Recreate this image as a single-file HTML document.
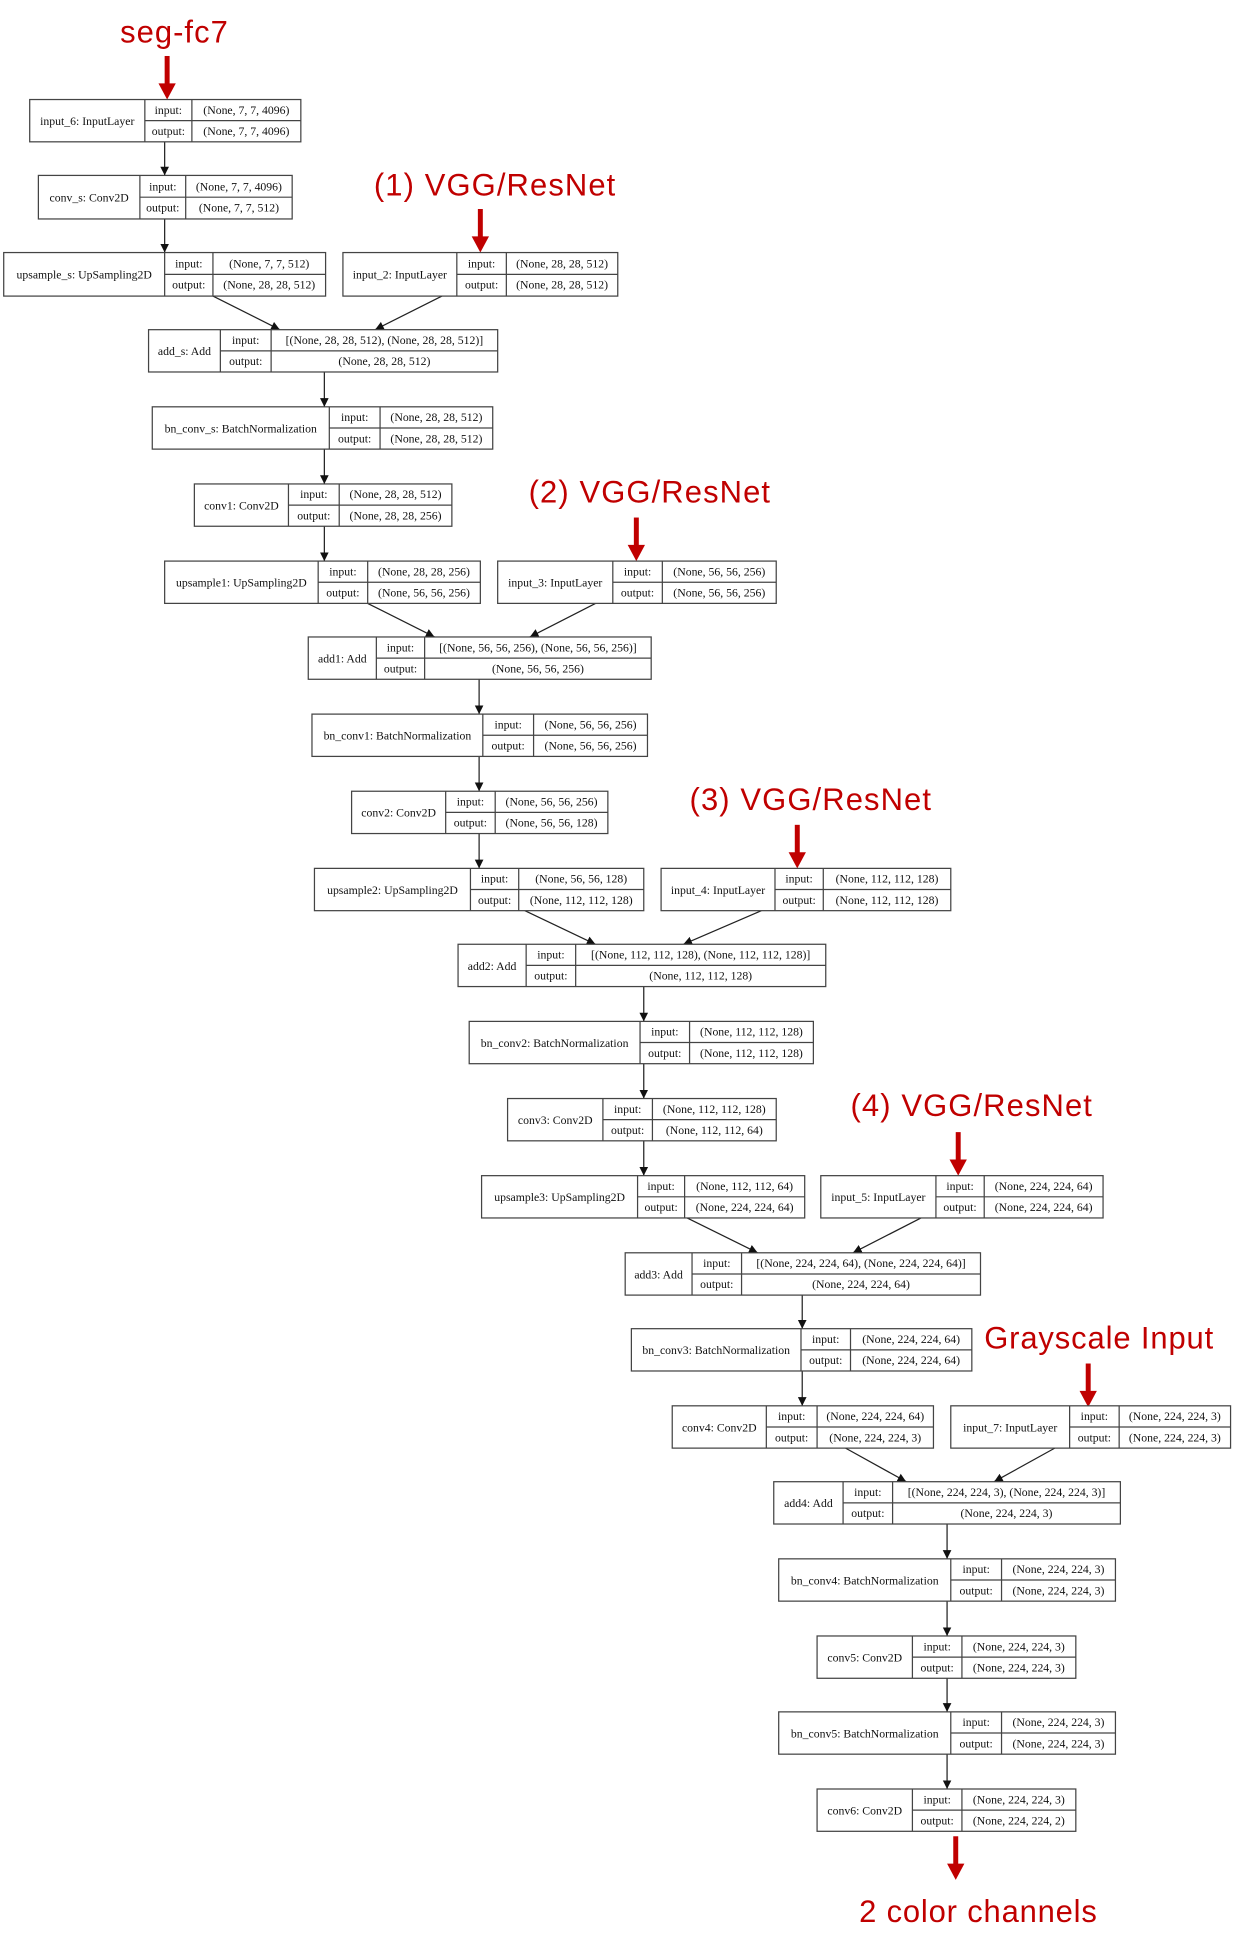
<!DOCTYPE html>
<html><head><meta charset="utf-8"><style>
html,body{margin:0;padding:0;background:#fff;}
svg{display:block;}
.b{fill:#fff;stroke:#444;stroke-width:1;}
.l{stroke:#444;stroke-width:1;}
text{font-family:"Liberation Serif",serif;font-size:9.5px;fill:#111;}
.r{font-family:"Liberation Sans",sans-serif;font-size:25px;fill:#c00000;}
.c{stroke:#222;stroke-width:1;fill:none;}
.h{fill:#111;}
.ra{fill:#c00000;}
</style></head><body>
<svg width="1238" height="1947" viewBox="0 0 1000 1565" preserveAspectRatio="none" xmlns="http://www.w3.org/2000/svg">
<defs>
<marker id="ah" markerWidth="8" markerHeight="8" refX="7" refY="3.5" orient="auto" markerUnits="userSpaceOnUse"><path d="M0,0 L7,3.5 L0,7 Z" class="h"/></marker>
<g id="rarrow"><rect x="-2" y="0" width="4" height="24" class="ra"/><path d="M-7,22 L7,22 L0,35 Z" class="ra"/></g>
</defs>

<!-- red labels -->
<text class="r" x="97" y="34" textLength="87">seg-fc7</text>
<use href="#rarrow" x="135" y="45"/>
<text class="r" x="302" y="157" textLength="195">(1) VGG/ResNet</text>
<use href="#rarrow" x="388" y="168"/>
<text class="r" x="427" y="404" textLength="195">(2) VGG/ResNet</text>
<use href="#rarrow" x="514" y="416"/>
<text class="r" x="557" y="651" textLength="195">(3) VGG/ResNet</text>
<use href="#rarrow" x="644" y="663"/>
<text class="r" x="687" y="897" textLength="195">(4) VGG/ResNet</text>
<use href="#rarrow" x="774" y="910"/>
<text class="r" x="795" y="1084" textLength="185">Grayscale Input</text>
<use href="#rarrow" x="879" y="1096"/>
<use href="#rarrow" x="772" y="1476"/>
<text class="r" x="694" y="1545" textLength="192">2 color channels</text>

<!-- connectors -->
<g class="c" marker-end="url(#ah)">
<line x1="133" y1="114" x2="133" y2="141"/>
<line x1="133" y1="176" x2="133" y2="203"/>
<line x1="172" y1="238" x2="226" y2="265"/>
<line x1="357" y1="238" x2="303" y2="265"/>
<line x1="262" y1="299" x2="262" y2="327"/>
<line x1="262" y1="361" x2="262" y2="389"/>
<line x1="262" y1="423" x2="262" y2="451"/>
<line x1="297" y1="485" x2="351" y2="512"/>
<line x1="481" y1="485" x2="428" y2="512"/>
<line x1="387" y1="546" x2="387" y2="574"/>
<line x1="387" y1="608" x2="387" y2="636"/>
<line x1="387" y1="670" x2="387" y2="698"/>
<line x1="424" y1="732" x2="481" y2="759"/>
<line x1="615" y1="732" x2="552" y2="759"/>
<line x1="520" y1="793" x2="520" y2="821"/>
<line x1="520" y1="855" x2="520" y2="883"/>
<line x1="520" y1="917" x2="520" y2="945"/>
<line x1="555" y1="979" x2="612" y2="1007"/>
<line x1="744" y1="979" x2="689" y2="1007"/>
<line x1="648" y1="1041" x2="648" y2="1068"/>
<line x1="648" y1="1102" x2="648" y2="1130"/>
<line x1="683" y1="1164" x2="732" y2="1191"/>
<line x1="852" y1="1164" x2="803" y2="1191"/>
<line x1="765" y1="1225" x2="765" y2="1253"/>
<line x1="765" y1="1287" x2="765" y2="1315"/>
<line x1="765" y1="1349" x2="765" y2="1376"/>
<line x1="765" y1="1410" x2="765" y2="1438"/>
</g>

<!-- nodes -->
<g id="nodes"></g>
<g>
<!-- N1 input_6 -->
<rect class="b" x="24" y="80" width="219" height="34"/><line class="l" x1="117" y1="80" x2="117" y2="114"/><line class="l" x1="155" y1="80" x2="155" y2="114"/><line class="l" x1="117" y1="97" x2="243" y2="97"/>
<text x="70.5" y="100.5" text-anchor="middle">input_6: InputLayer</text><text x="136" y="91.5" text-anchor="middle">input:</text><text x="136" y="108.5" text-anchor="middle">output:</text><text x="199" y="91.5" text-anchor="middle">(None, 7, 7, 4096)</text><text x="199" y="108.5" text-anchor="middle">(None, 7, 7, 4096)</text>
<!-- N2 conv_s -->
<rect class="b" x="31" y="141" width="205" height="35"/><line class="l" x1="113" y1="141" x2="113" y2="176"/><line class="l" x1="150" y1="141" x2="150" y2="176"/><line class="l" x1="113" y1="158.5" x2="236" y2="158.5"/>
<text x="72" y="162" text-anchor="middle">conv_s: Conv2D</text><text x="131.5" y="153" text-anchor="middle">input:</text><text x="131.5" y="170" text-anchor="middle">output:</text><text x="193" y="153" text-anchor="middle">(None, 7, 7, 4096)</text><text x="193" y="170" text-anchor="middle">(None, 7, 7, 512)</text>
<!-- N3 upsample_s -->
<rect class="b" x="3" y="203" width="260" height="35"/><line class="l" x1="133" y1="203" x2="133" y2="238"/><line class="l" x1="172" y1="203" x2="172" y2="238"/><line class="l" x1="133" y1="220.5" x2="263" y2="220.5"/>
<text x="68" y="224" text-anchor="middle">upsample_s: UpSampling2D</text><text x="152.5" y="215" text-anchor="middle">input:</text><text x="152.5" y="232" text-anchor="middle">output:</text><text x="217.5" y="215" text-anchor="middle">(None, 7, 7, 512)</text><text x="217.5" y="232" text-anchor="middle">(None, 28, 28, 512)</text>
<!-- N4 input_2 -->
<rect class="b" x="277" y="203" width="222" height="35"/><line class="l" x1="369" y1="203" x2="369" y2="238"/><line class="l" x1="409" y1="203" x2="409" y2="238"/><line class="l" x1="369" y1="220.5" x2="499" y2="220.5"/>
<text x="323" y="224" text-anchor="middle">input_2: InputLayer</text><text x="389" y="215" text-anchor="middle">input:</text><text x="389" y="232" text-anchor="middle">output:</text><text x="454" y="215" text-anchor="middle">(None, 28, 28, 512)</text><text x="454" y="232" text-anchor="middle">(None, 28, 28, 512)</text>
<!-- N5 add_s -->
<rect class="b" x="120" y="265" width="282" height="34"/><line class="l" x1="178" y1="265" x2="178" y2="299"/><line class="l" x1="219" y1="265" x2="219" y2="299"/><line class="l" x1="178" y1="282" x2="402" y2="282"/>
<text x="149" y="285.5" text-anchor="middle">add_s: Add</text><text x="198.5" y="276.5" text-anchor="middle">input:</text><text x="198.5" y="293.5" text-anchor="middle">output:</text><text x="310.5" y="276.5" text-anchor="middle">[(None, 28, 28, 512), (None, 28, 28, 512)]</text><text x="310.5" y="293.5" text-anchor="middle">(None, 28, 28, 512)</text>
<!-- N6 bn_conv_s -->
<rect class="b" x="123" y="327" width="275" height="34"/><line class="l" x1="266" y1="327" x2="266" y2="361"/><line class="l" x1="307" y1="327" x2="307" y2="361"/><line class="l" x1="266" y1="344" x2="398" y2="344"/>
<text x="194.5" y="347.5" text-anchor="middle">bn_conv_s: BatchNormalization</text><text x="286.5" y="338.5" text-anchor="middle">input:</text><text x="286.5" y="355.5" text-anchor="middle">output:</text><text x="352.5" y="338.5" text-anchor="middle">(None, 28, 28, 512)</text><text x="352.5" y="355.5" text-anchor="middle">(None, 28, 28, 512)</text>
<!-- N7 conv1 -->
<rect class="b" x="157" y="389" width="208" height="34"/><line class="l" x1="233" y1="389" x2="233" y2="423"/><line class="l" x1="274" y1="389" x2="274" y2="423"/><line class="l" x1="233" y1="406" x2="365" y2="406"/>
<text x="195" y="409.5" text-anchor="middle">conv1: Conv2D</text><text x="253.5" y="400.5" text-anchor="middle">input:</text><text x="253.5" y="417.5" text-anchor="middle">output:</text><text x="319.5" y="400.5" text-anchor="middle">(None, 28, 28, 512)</text><text x="319.5" y="417.5" text-anchor="middle">(None, 28, 28, 256)</text>
<!-- N8 upsample1 -->
<rect class="b" x="133" y="451" width="255" height="34"/><line class="l" x1="257" y1="451" x2="257" y2="485"/><line class="l" x1="297" y1="451" x2="297" y2="485"/><line class="l" x1="257" y1="468" x2="388" y2="468"/>
<text x="195" y="471.5" text-anchor="middle">upsample1: UpSampling2D</text><text x="277" y="462.5" text-anchor="middle">input:</text><text x="277" y="479.5" text-anchor="middle">output:</text><text x="342.5" y="462.5" text-anchor="middle">(None, 28, 28, 256)</text><text x="342.5" y="479.5" text-anchor="middle">(None, 56, 56, 256)</text>
<!-- N9 input_3 -->
<rect class="b" x="402" y="451" width="225" height="34"/><line class="l" x1="495" y1="451" x2="495" y2="485"/><line class="l" x1="535" y1="451" x2="535" y2="485"/><line class="l" x1="495" y1="468" x2="627" y2="468"/>
<text x="448.5" y="471.5" text-anchor="middle">input_3: InputLayer</text><text x="515" y="462.5" text-anchor="middle">input:</text><text x="515" y="479.5" text-anchor="middle">output:</text><text x="581" y="462.5" text-anchor="middle">(None, 56, 56, 256)</text><text x="581" y="479.5" text-anchor="middle">(None, 56, 56, 256)</text>
<!-- N10 add1 -->
<rect class="b" x="249" y="512" width="277" height="34"/><line class="l" x1="304" y1="512" x2="304" y2="546"/><line class="l" x1="343" y1="512" x2="343" y2="546"/><line class="l" x1="304" y1="529" x2="526" y2="529"/>
<text x="276.5" y="532.5" text-anchor="middle">add1: Add</text><text x="323.5" y="523.5" text-anchor="middle">input:</text><text x="323.5" y="540.5" text-anchor="middle">output:</text><text x="434.5" y="523.5" text-anchor="middle">[(None, 56, 56, 256), (None, 56, 56, 256)]</text><text x="434.5" y="540.5" text-anchor="middle">(None, 56, 56, 256)</text>
<!-- N11 bn_conv1 -->
<rect class="b" x="252" y="574" width="271" height="34"/><line class="l" x1="390" y1="574" x2="390" y2="608"/><line class="l" x1="431" y1="574" x2="431" y2="608"/><line class="l" x1="390" y1="591" x2="523" y2="591"/>
<text x="321" y="594.5" text-anchor="middle">bn_conv1: BatchNormalization</text><text x="410.5" y="585.5" text-anchor="middle">input:</text><text x="410.5" y="602.5" text-anchor="middle">output:</text><text x="477" y="585.5" text-anchor="middle">(None, 56, 56, 256)</text><text x="477" y="602.5" text-anchor="middle">(None, 56, 56, 256)</text>
<!-- N12 conv2 -->
<rect class="b" x="284" y="636" width="207" height="34"/><line class="l" x1="360" y1="636" x2="360" y2="670"/><line class="l" x1="400" y1="636" x2="400" y2="670"/><line class="l" x1="360" y1="653" x2="491" y2="653"/>
<text x="322" y="656.5" text-anchor="middle">conv2: Conv2D</text><text x="380" y="647.5" text-anchor="middle">input:</text><text x="380" y="664.5" text-anchor="middle">output:</text><text x="445.5" y="647.5" text-anchor="middle">(None, 56, 56, 256)</text><text x="445.5" y="664.5" text-anchor="middle">(None, 56, 56, 128)</text>
<!-- N13 upsample2 -->
<rect class="b" x="254" y="698" width="266" height="34"/><line class="l" x1="380" y1="698" x2="380" y2="732"/><line class="l" x1="419" y1="698" x2="419" y2="732"/><line class="l" x1="380" y1="715" x2="520" y2="715"/>
<text x="317" y="718.5" text-anchor="middle">upsample2: UpSampling2D</text><text x="399.5" y="709.5" text-anchor="middle">input:</text><text x="399.5" y="726.5" text-anchor="middle">output:</text><text x="469.5" y="709.5" text-anchor="middle">(None, 56, 56, 128)</text><text x="469.5" y="726.5" text-anchor="middle">(None, 112, 112, 128)</text>
<!-- N14 input_4 -->
<rect class="b" x="534" y="698" width="234" height="34"/><line class="l" x1="626" y1="698" x2="626" y2="732"/><line class="l" x1="665" y1="698" x2="665" y2="732"/><line class="l" x1="626" y1="715" x2="768" y2="715"/>
<text x="580" y="718.5" text-anchor="middle">input_4: InputLayer</text><text x="645.5" y="709.5" text-anchor="middle">input:</text><text x="645.5" y="726.5" text-anchor="middle">output:</text><text x="716.5" y="709.5" text-anchor="middle">(None, 112, 112, 128)</text><text x="716.5" y="726.5" text-anchor="middle">(None, 112, 112, 128)</text>
<!-- N15 add2 -->
<rect class="b" x="370" y="759" width="297" height="34"/><line class="l" x1="425" y1="759" x2="425" y2="793"/><line class="l" x1="465" y1="759" x2="465" y2="793"/><line class="l" x1="425" y1="776" x2="667" y2="776"/>
<text x="397.5" y="779.5" text-anchor="middle">add2: Add</text><text x="445" y="770.5" text-anchor="middle">input:</text><text x="445" y="787.5" text-anchor="middle">output:</text><text x="566" y="770.5" text-anchor="middle">[(None, 112, 112, 128), (None, 112, 112, 128)]</text><text x="566" y="787.5" text-anchor="middle">(None, 112, 112, 128)</text>
<!-- N16 bn_conv2 -->
<rect class="b" x="379" y="821" width="278" height="34"/><line class="l" x1="517" y1="821" x2="517" y2="855"/><line class="l" x1="557" y1="821" x2="557" y2="855"/><line class="l" x1="517" y1="838" x2="657" y2="838"/>
<text x="448" y="841.5" text-anchor="middle">bn_conv2: BatchNormalization</text><text x="537" y="832.5" text-anchor="middle">input:</text><text x="537" y="849.5" text-anchor="middle">output:</text><text x="607" y="832.5" text-anchor="middle">(None, 112, 112, 128)</text><text x="607" y="849.5" text-anchor="middle">(None, 112, 112, 128)</text>
<!-- N17 conv3 -->
<rect class="b" x="410" y="883" width="217" height="34"/><line class="l" x1="487" y1="883" x2="487" y2="917"/><line class="l" x1="527" y1="883" x2="527" y2="917"/><line class="l" x1="487" y1="900" x2="627" y2="900"/>
<text x="448.5" y="903.5" text-anchor="middle">conv3: Conv2D</text><text x="507" y="894.5" text-anchor="middle">input:</text><text x="507" y="911.5" text-anchor="middle">output:</text><text x="577" y="894.5" text-anchor="middle">(None, 112, 112, 128)</text><text x="577" y="911.5" text-anchor="middle">(None, 112, 112, 64)</text>
<!-- N18 upsample3 -->
<rect class="b" x="389" y="945" width="261" height="34"/><line class="l" x1="515" y1="945" x2="515" y2="979"/><line class="l" x1="553" y1="945" x2="553" y2="979"/><line class="l" x1="515" y1="962" x2="650" y2="962"/>
<text x="452" y="965.5" text-anchor="middle">upsample3: UpSampling2D</text><text x="534" y="956.5" text-anchor="middle">input:</text><text x="534" y="973.5" text-anchor="middle">output:</text><text x="601.5" y="956.5" text-anchor="middle">(None, 112, 112, 64)</text><text x="601.5" y="973.5" text-anchor="middle">(None, 224, 224, 64)</text>
<!-- N19 input_5 -->
<rect class="b" x="663" y="945" width="228" height="34"/><line class="l" x1="756" y1="945" x2="756" y2="979"/><line class="l" x1="795" y1="945" x2="795" y2="979"/><line class="l" x1="756" y1="962" x2="891" y2="962"/>
<text x="709.5" y="965.5" text-anchor="middle">input_5: InputLayer</text><text x="775.5" y="956.5" text-anchor="middle">input:</text><text x="775.5" y="973.5" text-anchor="middle">output:</text><text x="843" y="956.5" text-anchor="middle">(None, 224, 224, 64)</text><text x="843" y="973.5" text-anchor="middle">(None, 224, 224, 64)</text>
<!-- N20 add3 -->
<rect class="b" x="505" y="1007" width="287" height="34"/><line class="l" x1="559" y1="1007" x2="559" y2="1041"/><line class="l" x1="599" y1="1007" x2="599" y2="1041"/><line class="l" x1="559" y1="1024" x2="792" y2="1024"/>
<text x="532" y="1027.5" text-anchor="middle">add3: Add</text><text x="579" y="1018.5" text-anchor="middle">input:</text><text x="579" y="1035.5" text-anchor="middle">output:</text><text x="695.5" y="1018.5" text-anchor="middle">[(None, 224, 224, 64), (None, 224, 224, 64)]</text><text x="695.5" y="1035.5" text-anchor="middle">(None, 224, 224, 64)</text>
<!-- N21 bn_conv3 -->
<rect class="b" x="510" y="1068" width="275" height="34"/><line class="l" x1="647" y1="1068" x2="647" y2="1102"/><line class="l" x1="687" y1="1068" x2="687" y2="1102"/><line class="l" x1="647" y1="1085" x2="785" y2="1085"/>
<text x="578.5" y="1088.5" text-anchor="middle">bn_conv3: BatchNormalization</text><text x="667" y="1079.5" text-anchor="middle">input:</text><text x="667" y="1096.5" text-anchor="middle">output:</text><text x="736" y="1079.5" text-anchor="middle">(None, 224, 224, 64)</text><text x="736" y="1096.5" text-anchor="middle">(None, 224, 224, 64)</text>
<!-- N22 conv4 -->
<rect class="b" x="543" y="1130" width="211" height="34"/><line class="l" x1="619" y1="1130" x2="619" y2="1164"/><line class="l" x1="660" y1="1130" x2="660" y2="1164"/><line class="l" x1="619" y1="1147" x2="754" y2="1147"/>
<text x="581" y="1150.5" text-anchor="middle">conv4: Conv2D</text><text x="639.5" y="1141.5" text-anchor="middle">input:</text><text x="639.5" y="1158.5" text-anchor="middle">output:</text><text x="707" y="1141.5" text-anchor="middle">(None, 224, 224, 64)</text><text x="707" y="1158.5" text-anchor="middle">(None, 224, 224, 3)</text>
<!-- N23 input_7 -->
<rect class="b" x="768" y="1130" width="226" height="34"/><line class="l" x1="864" y1="1130" x2="864" y2="1164"/><line class="l" x1="904" y1="1130" x2="904" y2="1164"/><line class="l" x1="864" y1="1147" x2="994" y2="1147"/>
<text x="816" y="1150.5" text-anchor="middle">input_7: InputLayer</text><text x="884" y="1141.5" text-anchor="middle">input:</text><text x="884" y="1158.5" text-anchor="middle">output:</text><text x="949" y="1141.5" text-anchor="middle">(None, 224, 224, 3)</text><text x="949" y="1158.5" text-anchor="middle">(None, 224, 224, 3)</text>
<!-- N24 add4 -->
<rect class="b" x="625" y="1191" width="280" height="34"/><line class="l" x1="681" y1="1191" x2="681" y2="1225"/><line class="l" x1="721" y1="1191" x2="721" y2="1225"/><line class="l" x1="681" y1="1208" x2="905" y2="1208"/>
<text x="653" y="1211.5" text-anchor="middle">add4: Add</text><text x="701" y="1202.5" text-anchor="middle">input:</text><text x="701" y="1219.5" text-anchor="middle">output:</text><text x="813" y="1202.5" text-anchor="middle">[(None, 224, 224, 3), (None, 224, 224, 3)]</text><text x="813" y="1219.5" text-anchor="middle">(None, 224, 224, 3)</text>
<!-- N25 bn_conv4 -->
<rect class="b" x="629" y="1253" width="272" height="34"/><line class="l" x1="768" y1="1253" x2="768" y2="1287"/><line class="l" x1="809" y1="1253" x2="809" y2="1287"/><line class="l" x1="768" y1="1270" x2="901" y2="1270"/>
<text x="698.5" y="1273.5" text-anchor="middle">bn_conv4: BatchNormalization</text><text x="788.5" y="1264.5" text-anchor="middle">input:</text><text x="788.5" y="1281.5" text-anchor="middle">output:</text><text x="855" y="1264.5" text-anchor="middle">(None, 224, 224, 3)</text><text x="855" y="1281.5" text-anchor="middle">(None, 224, 224, 3)</text>
<!-- N26 conv5 -->
<rect class="b" x="660" y="1315" width="209" height="34"/><line class="l" x1="737" y1="1315" x2="737" y2="1349"/><line class="l" x1="777" y1="1315" x2="777" y2="1349"/><line class="l" x1="737" y1="1332" x2="869" y2="1332"/>
<text x="698.5" y="1335.5" text-anchor="middle">conv5: Conv2D</text><text x="757" y="1326.5" text-anchor="middle">input:</text><text x="757" y="1343.5" text-anchor="middle">output:</text><text x="823" y="1326.5" text-anchor="middle">(None, 224, 224, 3)</text><text x="823" y="1343.5" text-anchor="middle">(None, 224, 224, 3)</text>
<!-- N27 bn_conv5 -->
<rect class="b" x="629" y="1376" width="272" height="34"/><line class="l" x1="768" y1="1376" x2="768" y2="1410"/><line class="l" x1="809" y1="1376" x2="809" y2="1410"/><line class="l" x1="768" y1="1393" x2="901" y2="1393"/>
<text x="698.5" y="1396.5" text-anchor="middle">bn_conv5: BatchNormalization</text><text x="788.5" y="1387.5" text-anchor="middle">input:</text><text x="788.5" y="1404.5" text-anchor="middle">output:</text><text x="855" y="1387.5" text-anchor="middle">(None, 224, 224, 3)</text><text x="855" y="1404.5" text-anchor="middle">(None, 224, 224, 3)</text>
<!-- N28 conv6 -->
<rect class="b" x="660" y="1438" width="209" height="34"/><line class="l" x1="737" y1="1438" x2="737" y2="1472"/><line class="l" x1="777" y1="1438" x2="777" y2="1472"/><line class="l" x1="737" y1="1455" x2="869" y2="1455"/>
<text x="698.5" y="1458.5" text-anchor="middle">conv6: Conv2D</text><text x="757" y="1449.5" text-anchor="middle">input:</text><text x="757" y="1466.5" text-anchor="middle">output:</text><text x="823" y="1449.5" text-anchor="middle">(None, 224, 224, 3)</text><text x="823" y="1466.5" text-anchor="middle">(None, 224, 224, 2)</text>
</g>
</svg>
</body></html>
